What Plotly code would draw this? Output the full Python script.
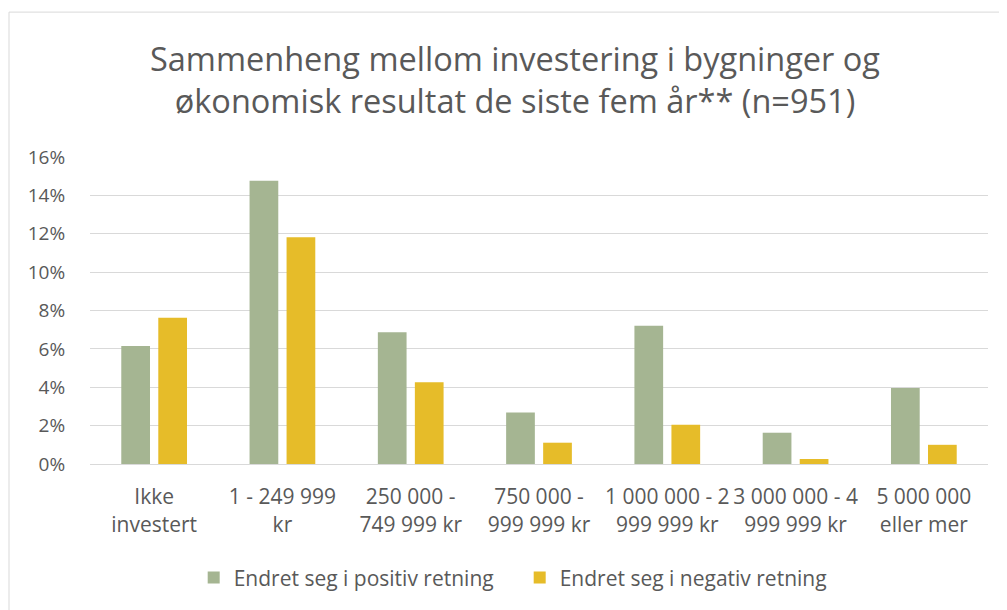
import plotly.graph_objects as go

categories = [
    "Ikke<br>investert",
    "1 - 249 999<br>kr",
    "250 000 -<br>749 999 kr",
    "750 000 -<br>999 999 kr",
    "1 000 000 - 2<br>999 999 kr",
    "3 000 000 - 4<br>999 999 kr",
    "5 000 000<br>eller mer",
]
positive = [6.15, 14.76, 6.87, 2.69, 7.20, 1.63, 3.96]
negative = [7.62, 11.82, 4.26, 1.11, 2.05, 0.26, 1.00]
series_names = ["Endret seg i positiv retning", "Endret seg i negativ retning"]
title_text = "Sammenheng mellom investering i bygninger og<br>økonomisk resultat de siste fem år** (n=951)"

FONT = "Open Sans"
GREY = "#595959"

fig = go.Figure()
fig.add_trace(go.Bar(x=categories, y=positive, name=series_names[0],
                     marker=dict(color="#a5b592", line=dict(width=0))))
fig.add_trace(go.Bar(x=categories, y=negative, name=series_names[1],
                     marker=dict(color="#e6bc29", line=dict(width=0))))

# page body has an 8px margin, so the figure is sized to fill the rest of the window
fig.update_layout(
    width=999, height=602,
    margin=dict(l=82, r=19, t=149, b=146),
    paper_bgcolor="white", plot_bgcolor="white",
    barmode="group", bargap=0.423, bargroupgap=0.224,
    title=dict(text=title_text, x=0.5075, xanchor="center", y=0.895, yanchor="middle",
               font=dict(family=FONT, size=32.5, color=GREY)),
    font=dict(family=FONT, color=GREY, size=20),
    legend=dict(orientation="h", x=0.4785, xanchor="center", y=-0.371, yanchor="middle",
                font=dict(size=21, color=GREY), itemwidth=30, traceorder="normal",
                entrywidth=281, entrywidthmode="pixels"),
    showlegend=True,
)
fig.update_yaxes(range=[0, 16], dtick=2, ticksuffix="%", showgrid=True,
                 gridcolor="#d9d9d9", gridwidth=1, zeroline=False, showline=False,
                 tickfont=dict(size=19, color=GREY), ticks="outside", ticklen=20,
                 tickcolor="rgba(0,0,0,0)", automargin=False)
fig.update_xaxes(showline=True, linecolor="#d9d9d9", linewidth=1, showgrid=False,
                 tickfont=dict(size=21, color=GREY), ticks="outside", ticklen=14,
                 tickcolor="rgba(0,0,0,0)", automargin=False)

# outer chart border (left and top edges visible)
fig.add_shape(type="line", xref="paper", yref="paper", x0=-0.0902, x1=-0.0902, y0=1.472, y1=-0.48,
              line=dict(color="#d9d9d9", width=1))
fig.add_shape(type="line", xref="paper", yref="paper", x0=-0.0902, x1=1.03, y0=1.472, y1=1.472,
              line=dict(color="#d9d9d9", width=1))

fig.write_html("out.html")
